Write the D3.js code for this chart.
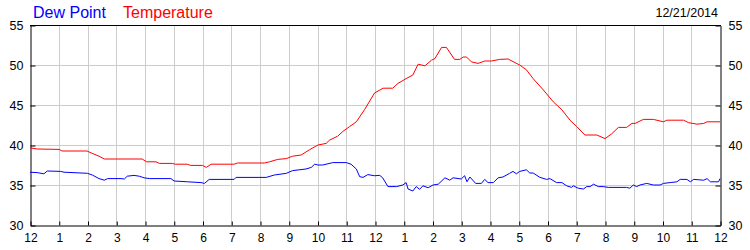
<!DOCTYPE html>
<html>
<head>
<meta charset="utf-8">
<script src="https://cdn.jsdelivr.net/npm/d3@7"></script>
<style>
  body { margin: 0; background: #fff; }
  svg { display: block; font-family: "Liberation Sans", Arial, sans-serif; }
</style>
</head>
<body>
<div id="chart"></div>
<script>
const dateLabel = "12/21/2014";
const seriesNames = ["Dew Point", "Temperature"];
const seriesColors = ["#0000ff", "#ff0000"];
const yTicks = [30, 35, 40, 45, 50, 55];
const hourLabels = ["12","1","2","3","4","5","6","7","8","9","10","11",
                    "12","1","2","3","4","5","6","7","8","9","10","11","12"];

// [minutes after midnight, degrees F]
const temperature = [
  [0,39.65],[15,39.5],[61,39.45],[67,39.25],[119,39.25],[128,39.0],[144,38.6],
  [155,38.25],[234,38.25],[243,37.9],[263,37.9],[270,37.7],[297,37.7],[303,37.6],
  [328,37.6],[335,37.45],[360,37.45],[368,37.2],[378,37.6],[426,37.6],[433,37.75],
  [489,37.75],[500,37.9],[517,38.2],[535,38.3],[548,38.6],[566,38.75],[583,39.4],
  [601,40.0],[618,40.2],[625,40.6],[642,41.1],[653,41.7],[667,42.3],[681,42.9],
  [698,44.4],[719,46.5],[737,47.1],[757,47.1],[768,47.7],[785,48.3],[799,48.75],
  [810,50.1],[824,49.9],[838,50.6],[845,50.8],[859,52.2],[869,52.2],[886,50.7],
  [897,50.7],[904,51.0],[911,51.0],[921,50.4],[935,50.2],[949,50.5],[963,50.5],
  [980,50.7],[998,50.75],[1012,50.3],[1022,50.0],[1036,49.4],[1050,48.3],[1071,46.9],
  [1092,45.4],[1110,44.4],[1127,43.1],[1141,42.3],[1158,41.25],[1183,41.25],[1200,40.8],
  [1214,41.4],[1228,42.2],[1245,42.2],[1256,42.7],[1263,42.7],[1280,43.2],[1301,43.2],
  [1315,43.0],[1322,42.9],[1329,43.1],[1364,43.1],[1374,42.8],[1392,42.6],[1406,42.7],
  [1413,42.9],[1440,42.9]
];

const dewPoint = [
  [0,36.6],[15,36.55],[29,36.4],[36,36.75],[64,36.7],[71,36.6],[120,36.46],[130,36.25],
  [144,35.8],[155,35.6],[162,35.8],[190,35.8],[197,35.75],[203,36.1],[217,36.2],[228,36.1],
  [238,35.9],[249,35.8],[294,35.8],[301,35.5],[329,35.4],[357,35.3],[364,35.2],[374,35.7],
  [426,35.7],[430,35.95],[493,35.95],[510,36.25],[535,36.46],[548,36.8],[576,37.0],
  [587,37.2],[594,37.6],[601,37.5],[611,37.5],[632,37.8],[660,37.8],[670,37.6],[681,37.0],
  [688,36.04],[695,35.95],[705,36.3],[719,36.16],[730,36.2],[736,35.9],[747,34.8],
  [765,34.8],[778,35.0],[785,35.3],[789,34.5],[799,34.25],[806,34.8],[813,34.46],
  [820,34.9],[831,34.66],[841,35.0],[852,35.1],[866,35.9],[876,35.6],[883,35.9],
  [900,35.75],[907,36.16],[912,35.4],[918,36.0],[930,35.2],[942,35.2],[949,35.7],
  [956,35.3],[967,35.3],[977,35.9],[987,36.0],[1001,36.46],[1008,36.7],[1015,36.4],
  [1022,36.7],[1036,36.9],[1043,36.5],[1050,36.5],[1064,35.96],[1078,35.7],[1085,35.8],
  [1099,35.3],[1110,35.3],[1120,34.9],[1130,34.7],[1134,34.9],[1144,34.6],[1155,34.5],
  [1162,34.8],[1169,34.8],[1176,35.1],[1186,34.8],[1196,34.8],[1207,34.7],[1245,34.7],
  [1252,34.6],[1259,35.0],[1266,34.8],[1273,35.0],[1287,35.2],[1301,35.0],[1315,35.0],
  [1322,35.2],[1336,35.3],[1350,35.4],[1357,35.7],[1371,35.7],[1378,35.4],[1385,35.7],
  [1406,35.6],[1413,35.8],[1420,35.4],[1437,35.4],[1440,35.8]
];

const width = 750, height = 250;
const margin = { top: 25, right: 30, bottom: 25, left: 30 };

const svg = d3.select("#chart").append("svg")
  .attr("width", width)
  .attr("height", height);

const x = d3.scaleLinear().domain([0, 1440]).range([margin.left, width - margin.right]);
const y = d3.scaleLinear().domain([30, 55]).range([height - margin.bottom, margin.top]);
const hourTicks = d3.range(0, 1441, 60);

// grid
svg.append("g").selectAll("line.v")
  .data(hourTicks.slice(1, -1))
  .join("line")
  .attr("x1", d => Math.round(x(d)) + 0.5).attr("x2", d => Math.round(x(d)) + 0.5)
  .attr("y1", y(55)).attr("y2", y(30))
  .attr("stroke", "#cccccc");

svg.append("g").selectAll("line.h")
  .data(yTicks.slice(1, -1))
  .join("line")
  .attr("x1", x(0)).attr("x2", x(1440))
  .attr("y1", d => y(d) + 0.5).attr("y2", d => y(d) + 0.5)
  .attr("stroke", "#cccccc");

// axes
const bottom = svg.append("g")
  .attr("transform", `translate(0.5,${y(30) + 0.5})`)
  .call(d3.axisBottom(x).tickValues(hourTicks).tickSizeInner(-4).tickSizeOuter(0)
    .tickFormat((d, i) => hourLabels[i]));
bottom.selectAll("text").attr("y", 8).attr("font-size", 12)
  .attr("font-family", "Liberation Sans, Arial, sans-serif").attr("fill", "#000");

const left = svg.append("g")
  .attr("transform", `translate(${x(0) + 0.5},0.5)`)
  .call(d3.axisLeft(y).tickValues(yTicks).tickSizeInner(-5).tickSizeOuter(0).tickPadding(7));
left.selectAll("text").attr("font-size", 12.5)
  .attr("font-family", "Liberation Sans, Arial, sans-serif").attr("fill", "#000");

const right = svg.append("g")
  .attr("transform", `translate(${x(1440) + 0.5},0.5)`)
  .call(d3.axisRight(y).tickValues(yTicks).tickSizeInner(-5).tickSizeOuter(0).tickPadding(8));
right.selectAll("text").attr("font-size", 12.5)
  .attr("font-family", "Liberation Sans, Arial, sans-serif").attr("fill", "#000");

svg.selectAll(".domain").attr("stroke", "#000");
svg.selectAll(".tick line").attr("stroke", "#000");

// top border
svg.append("line")
  .attr("x1", x(0)).attr("x2", x(1440) + 1)
  .attr("y1", y(55) + 0.5).attr("y2", y(55) + 0.5)
  .attr("stroke", "#000");

// series
const line = d3.line().x(d => x(d[0])).y(d => y(d[1]));
[dewPoint, temperature].forEach((s, i) => {
  svg.append("path")
    .datum(s)
    .attr("d", line)
    .attr("fill", "none")
    .attr("stroke", seriesColors[i])
    .attr("stroke-width", 1);
});

// legend
svg.append("text").attr("x", 33).attr("y", 18).attr("font-size", 16)
  .attr("fill", seriesColors[0]).text(seriesNames[0]);
svg.append("text").attr("x", 123).attr("y", 18).attr("font-size", 16)
  .attr("fill", seriesColors[1]).text(seriesNames[1]);

svg.append("text").attr("x", 718).attr("y", 17).attr("font-size", 12.5)
  .attr("text-anchor", "end").attr("fill", "#000").text(dateLabel);
</script>
</body>
</html>
